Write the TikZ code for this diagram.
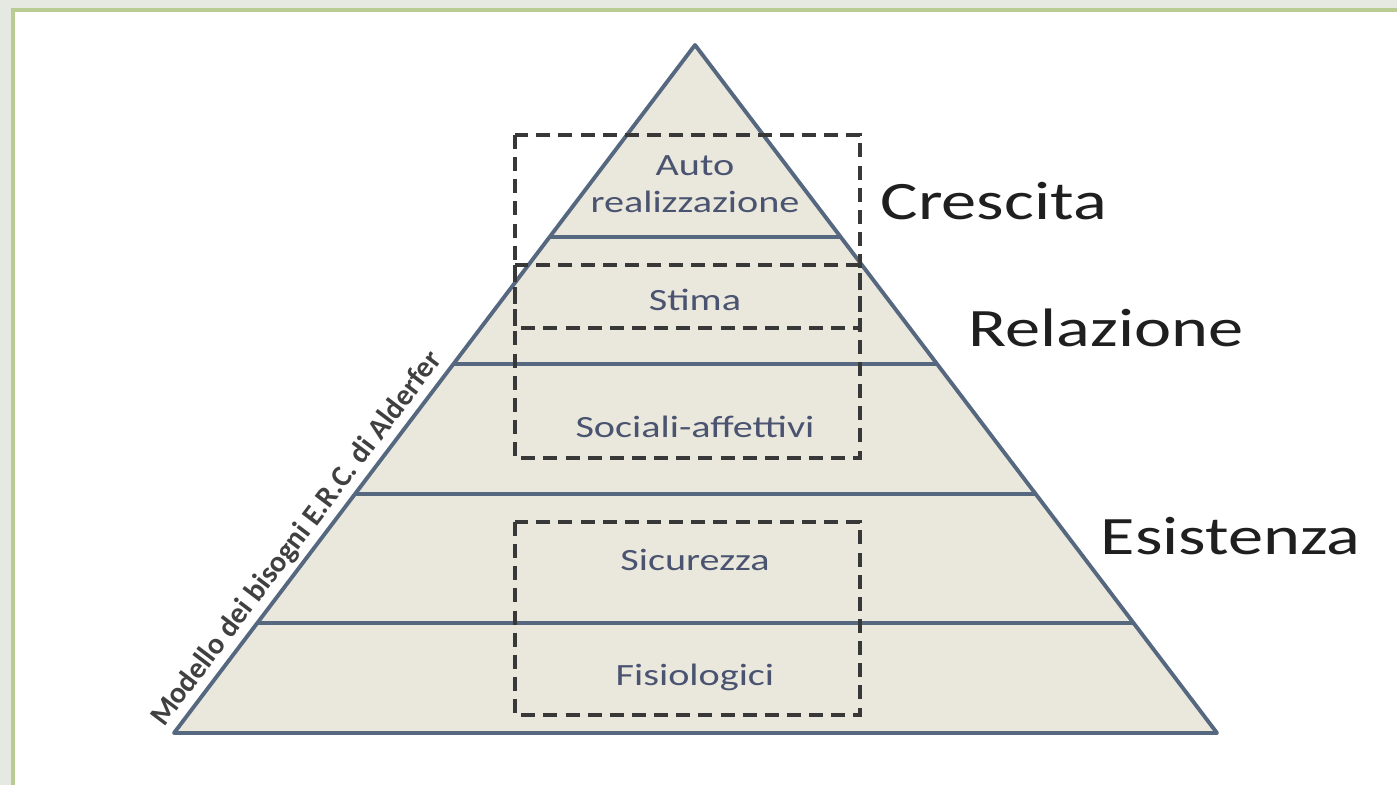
\documentclass[tikz,border=0pt]{standalone}
\usepackage{fontspec}
\setmainfont{Carlito}
\newfontfamily\widefont[FakeStretch=1.3]{Carlito}

\definecolor{pyrfill}{HTML}{EAE7DC}
\definecolor{pyrline}{HTML}{56687F}
\definecolor{boxline}{HTML}{383838}
\definecolor{needtext}{HTML}{4A5470}
\definecolor{framegreen}{HTML}{B9CC93}
\definecolor{framegray}{HTML}{E6E8E2}

\begin{document}
\begin{tikzpicture}[
  layer/.style = {draw = pyrline, line width = 1.1pt},
  group/.style = {draw = boxline, line width = 1.3pt, dash pattern = on 4pt off 2.3pt},
  need/.style = {text = needtext, font = \widefont\fontsize{8.8}{10.4}\selectfont, align = center},
  erg/.style = {text = black!88, font = \widefont\fontsize{15.4}{18}\selectfont, anchor = base west, inner sep = 0pt},
  side/.style = {text = black!75, font = \bfseries\fontsize{8.5}{10}\selectfont, inner sep = 1.5pt}
  ]
  \useasboundingbox (0,0) rectangle (13.97,7.85);
  % slide frame
  \fill[framegray] (0,0) rectangle (13.97,7.85);
  \fill[white] (0.13,0) rectangle (13.97,7.75);
  \draw[framegreen, line width = 0.9pt] (0.13,0) |- (13.97,7.75);

  \coordinate (T) at (6.95,7.40);
  \coordinate (L) at (1.74,0.52);
  \coordinate (R) at (12.17,0.52);
  \fill[pyrfill] (T) -- (L) -- (R) -- cycle;
  \begin{scope}
    \clip (T) -- (L) -- (R) -- cycle;
    \foreach \y in {5.48, 4.21, 2.91, 1.62}
      \draw[layer] (1,\y) -- (13,\y);
  \end{scope}
  \draw[layer, line join = round] (T) -- (L) -- (R) -- cycle;

  % levels
  \node[need] (auto) at (6.95,6.01) {Auto\\realizzazione};
  \node[need] (stima) at (6.95,4.85) {Stima};
  \node[need] (sociali) at (6.95,3.58) {Sociali-affettivi};
  \node[need] (sicurezza) at (6.95,2.25) {Sicurezza};
  \node[need] (fisiologici) at (6.95,1.08) {Fisiologici};

  % E.R.C. groups
  \draw[group] (5.15,6.50) rectangle (8.60,4.57);
  \draw[group] (5.15,5.20) rectangle (8.60,3.27);
  \draw[group] (5.15,2.63) rectangle (8.60,0.70);
  \node[erg] (crescita) at (8.80,5.65) {Crescita};
  \node[erg] (relazione) at (9.68,4.38) {Relazione};
  \node[erg] (esistenza) at (11.00,2.30) {Esistenza};

  \path (L) -- (T) node[side, pos = 0.265, sloped, above] (modello) {Modello dei bisogni E.R.C. di Alderfer};
\end{tikzpicture}
\end{document}
